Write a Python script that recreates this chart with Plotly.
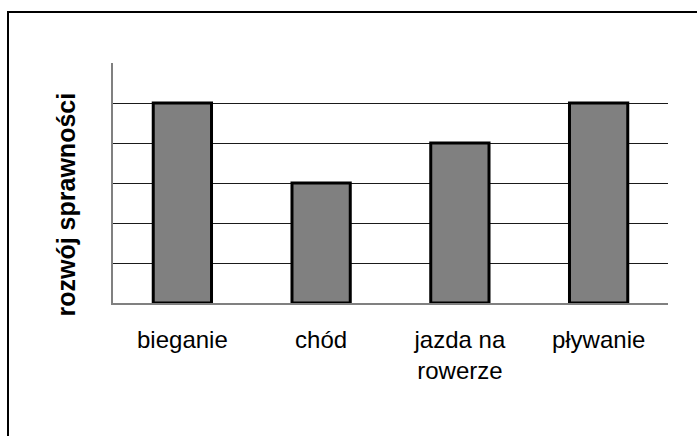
import plotly.graph_objects as go

categories = ["bieganie", "chód", "jazda na<br>rowerze", "pływanie"]
values = [5, 3, 4, 5]
y_title = "rozwój sprawności"
grid_vals = [1, 2, 3, 4, 5]

W, H = 697, 436
L, R, T, B = 113, 29, 63, 133
pw, ph = W - L - R, H - T - B

fig = go.Figure(go.Bar(
    x=categories, y=values,
    marker=dict(color="#808080", line=dict(color="#000000", width=3)),
    width=0.42,
))

fig.update_layout(
    width=W, height=H,
    margin=dict(l=L, r=R, t=T, b=B),
    paper_bgcolor="white", plot_bgcolor="white",
    font=dict(family="Arial, Liberation Sans, sans-serif", color="#000000", size=24),
    showlegend=False,
    bargap=0.58,
    xaxis=dict(
        showline=True, linecolor="#808080", linewidth=2,
        showgrid=False, ticks="", tickfont=dict(size=24),
        ticklabelstandoff=14,
    ),
    yaxis=dict(
        range=[0, 6], tickvals=grid_vals, showticklabels=False,
        showgrid=True, gridcolor="#1a1a1a", gridwidth=1,
        showline=True, linecolor="#808080", linewidth=2,
        zeroline=False, ticks="",
    ),
    annotations=[dict(
        text="<b>" + y_title + "</b>", textangle=-90,
        xref="paper", yref="paper",
        x=(65 - L) / pw, y=(H - B - 204.5) / ph,
        xanchor="center", yanchor="middle", showarrow=False,
        font=dict(size=25),
    )],
    shapes=[dict(
        type="rect", xref="paper", yref="paper",
        x0=(8 - L) / pw, x1=3, y0=-3, y1=1 + (T - 12) / ph,
        line=dict(color="#000000", width=2), layer="above",
    )],
)

fig.write_html(
    "out.html",
    config={"displayModeBar": False, "staticPlot": True},
    post_script="document.body.style.margin='0';document.body.style.overflow='hidden';",
)
